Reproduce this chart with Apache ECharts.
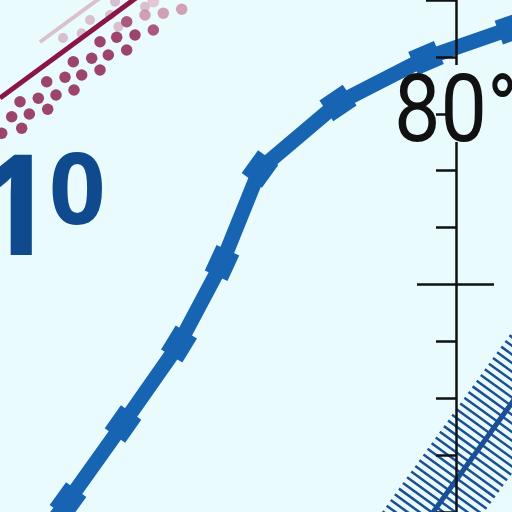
<!DOCTYPE html>
<html>
<head>
<meta charset="utf-8">
<script src="https://cdn.jsdelivr.net/npm/echarts@6/dist/echarts.min.js"></script>
<style>
  html, body { margin: 0; padding: 0; background: #eafbfd; }
  #main { width: 512px; height: 512px; }
</style>
</head>
<body>
<div id="main"></div>
<script>
// plot space is 0..512 on both axes, y grows downward
var bluePath = [[55, 518], [68, 501], [123, 424], [179, 344], [222, 263], [260, 169],
    [338, 103], [426, 58], [512, 28], [545, 16]];
var blueMarked = [false, true, true, true, true, true, true, true, true, false];

var hatchCenter = [[395, 565], [560, 336]];

var maroonLine = [[0, 98], [140, -5]];
var ghostLine = [[40, 42], [100, -2]];

var dots = [
    [20, 101.7], [46.7, 81.7], [73.3, 61.7], [100, 41.7], [126.7, 21.7], [153.3, 1.7],
    [11.7, 116.7], [38.3, 98.3], [65, 77.3], [91.7, 58.3], [116.7, 37.3], [145, 15],
    [1.7, 133.3], [29.3, 114], [56, 95], [81.7, 75], [108.3, 55], [135, 35], [163.3, 13.3],
    [21.7, 128.3], [47.7, 109.3], [74, 90], [100, 70], [126.7, 50], [153.3, 30], [181.7, 9.3]
];
var ghostDots = [[90, 20], [110, 15], [118.3, 26.7], [115, 1.7], [145, 6.7], [81.7, 33.3], [63, 38]];

// vertical scale: one tick per unit
var scaleMin = 73;
var scaleMax = 82;
var majorTicks = [77];
var topTicks = [82];

var chart = echarts.init(document.getElementById('main'));

// turn each marked point of the blue path into a rotated square
var blueData = bluePath.map(function (p, i) {
    var a = bluePath[Math.max(i - 1, 0)];
    var b = bluePath[Math.min(i + 1, bluePath.length - 1)];
    var ang = Math.atan2(-(b[1] - a[1]), b[0] - a[0]) * 180 / Math.PI;
    return {
        value: p,
        symbol: blueMarked[i] ? 'rect' : 'none',
        symbolRotate: ang
    };
});

var tickAxis = function (extra) {
    return Object.assign({
        type: 'value',
        gridIndex: 1,
        min: scaleMin,
        max: scaleMax,
        interval: 1,
        position: 'left',
        z: 5,
        axisLine: { show: false },
        axisLabel: { show: false },
        splitLine: { show: false },
        axisTick: { show: true, length: 20, lineStyle: { color: '#111', width: 2.5 } }
    }, extra);
};

chart.setOption({
    backgroundColor: '#eafbfd',
    animation: false,
    grid: [
        { left: 0, right: 0, top: 0, bottom: 0 },
        { left: 456, right: 0, top: 0, height: 517.5 }
    ],
    xAxis: [
        { type: 'value', min: 0, max: 512, show: false },
        { type: 'value', gridIndex: 1, show: false }
    ],
    yAxis: [
        { type: 'value', min: 0, max: 512, inverse: true, show: false },
        tickAxis({ axisLine: { show: true, lineStyle: { color: '#111', width: 2.5 } } }),
        tickAxis({ axisTick: { show: true, customValues: majorTicks, length: 39, lineStyle: { color: '#111', width: 2.5 } } }),
        tickAxis({ axisTick: { show: true, inside: true, customValues: majorTicks, length: 38, lineStyle: { color: '#111', width: 2.5 } } }),
        tickAxis({ axisTick: { show: true, customValues: topTicks, length: 30, lineStyle: { color: '#111', width: 2.5 } } })
    ],
    visualMap: {
        type: 'piecewise',
        show: false,
        seriesIndex: 5,
        dimension: 1,
        pieces: [
            { lt: 8, color: '#e2b9c9' },
            { gte: 8, lt: 18, color: '#c98aa4' },
            { gte: 18, lt: 34, color: '#9a3060' },
            { gte: 34, color: '#8a1648' }
        ]
    },
    series: [
        {
            type: 'line', data: hatchCenter, symbol: 'none', silent: true,
            lineStyle: { color: '#1c4f93', width: 83, type: [2.5, 4.5], cap: 'butt' }
        },
        {
            type: 'line', data: hatchCenter, symbol: 'none', silent: true,
            lineStyle: { color: '#1a4e95', width: 5 }
        },
        {
            type: 'line', data: ghostLine, symbol: 'none', silent: true,
            lineStyle: { color: '#cf9bb1', width: 4, opacity: 0.6 }
        },
        {
            type: 'line', data: maroonLine, symbol: 'none', silent: true,
            lineStyle: { color: '#8a1648', width: 5 }
        },
        {
            type: 'scatter', data: ghostDots, symbolSize: 10, silent: true,
            itemStyle: { color: '#c98fa8', opacity: 0.55 }
        },
        {
            type: 'scatter', data: dots, symbolSize: 11.5, silent: true
        },
        {
            type: 'line', data: blueData, showAllSymbol: true, symbolSize: [28, 25], silent: true,
            z: 4,
            lineStyle: { color: '#1765b2', width: 15, join: 'miter' },
            itemStyle: { color: '#1765b2' }
        }
    ],
    graphic: [
        // gap in the vertical axis behind the big label
        { type: 'rect', z: 20, shape: { x: 450, y: 65, width: 12, height: 77 }, style: { fill: '#eafbfd' } },
        {
            type: 'text', z: 21, x: 394, y: 117, scaleX: 0.88,
            style: {
                text: '80°', fill: '#111', fontSize: 94,
                fontFamily: 'Roboto',
                verticalAlign: 'middle'
            }
        },
        {
            type: 'text', z: 21, x: -26, y: 215,
            style: {
                text: '1', fill: '#0f4a8e', fontSize: 140, fontWeight: 'bold',
                fontFamily: 'Noto Sans',
                verticalAlign: 'middle'
            }
        },
        {
            type: 'text', z: 21, x: 49, y: 196,
            style: {
                text: '0', fill: '#0f4a8e', fontSize: 99, fontWeight: 'bold',
                fontFamily: 'Noto Sans',
                verticalAlign: 'middle'
            }
        }
    ]
});
</script>
</body>
</html>
